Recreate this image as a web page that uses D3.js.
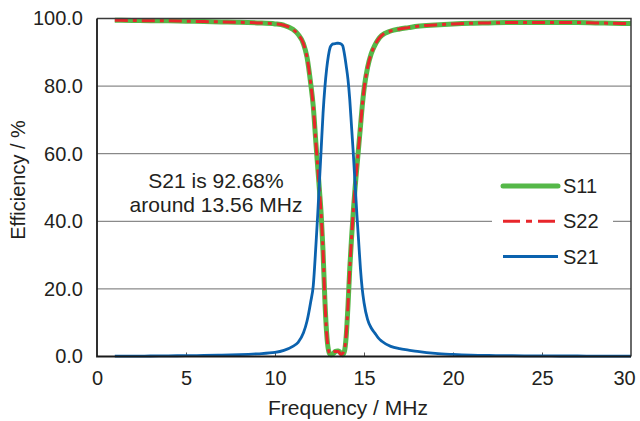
<!DOCTYPE html>
<html>
<head>
<meta charset="utf-8">
<script src="https://cdn.jsdelivr.net/npm/d3@7"></script>
<style>
  html, body { margin: 0; padding: 0; background: #fff; }
  svg { display: block; font-family: "Liberation Sans", Arial, Helvetica, sans-serif; }
</style>
</head>
<body>
<svg id="chart" width="640" height="421"></svg>
<script>
// Frequency sweep, MHz
const freq = [1, 2, 3, 4, 5, 6, 7, 8, 9, 10, 10.5, 11, 11.3, 11.6, 11.8, 12.0, 12.15, 12.3, 12.4, 12.5,
  12.6, 12.7, 12.8, 12.9, 13.0, 13.1, 13.2, 13.3, 13.4, 13.5, 13.56, 13.6, 13.7, 13.8, 13.9, 14.0,
  14.1, 14.2, 14.3, 14.4, 14.5, 14.6, 14.7, 14.8, 14.9, 15.0, 15.2, 15.4, 15.6, 15.8, 16.0, 16.5,
  17, 17.5, 18, 19, 20, 21, 22, 23, 24, 25, 26, 27, 28, 29, 30];

// Efficiency, %
const s11 = [99.5, 99.4, 99.35, 99.3, 99.2, 99.1, 99.0, 98.9, 98.7, 98.4, 98.0, 96.8, 95.3, 92.5, 88.5, 81, 74, 63, 56, 49,
  41.5, 31, 17, 7, 2, 0.6, 0.5, 1.0, 1.5, 1.6, 1.6, 1.5, 1.0, 0.5, 1.5, 6,
  15, 26, 35, 43, 50, 56, 62, 68, 74, 79, 85.5, 89.5, 92, 93.8, 95, 96.3,
  96.9, 97.3, 97.7, 98.1, 98.4, 98.6, 98.7, 98.8, 98.8, 98.8, 98.8, 98.8, 98.7, 98.6, 98.5];

const s22 = [99.5, 99.4, 99.35, 99.3, 99.2, 99.1, 99.0, 98.9, 98.7, 98.4, 98.0, 96.8, 95.3, 92.5, 88.5, 81, 74, 63, 56, 49,
  41.5, 31, 17, 7, 2, 0.8, 1.2, 1.4, 1.5, 1.5, 1.5, 1.3, 0.6, 0.9, 2.0, 6.5,
  15, 26, 35, 43, 50, 56, 62, 68, 74, 79, 85.5, 89.5, 92, 93.8, 95, 96.3,
  96.9, 97.3, 97.7, 98.1, 98.4, 98.6, 98.7, 98.8, 98.8, 98.8, 98.8, 98.8, 98.7, 98.6, 98.5];

const s21 = [0.1, 0.1, 0.15, 0.2, 0.25, 0.3, 0.4, 0.55, 0.8, 1.2, 1.8, 3.0, 4.2, 7, 10.5, 16, 21, 33, 42, 52,
  62, 72, 79.5, 85, 89, 91.5, 92.3, 92.5, 92.6, 92.68, 92.68, 92.65, 92.5, 92, 89.5, 86,
  82, 76, 68, 60, 51, 42, 34, 26, 20, 16, 11, 8.5, 7, 5.5, 4.5, 3,
  2.3, 1.9, 1.5, 0.9, 0.6, 0.4, 0.3, 0.25, 0.2, 0.2, 0.15, 0.15, 0.1, 0.1, 0.1];

const xTicks = [0, 5, 10, 15, 20, 25, 30];
const yTicks = [0, 20, 40, 60, 80, 100];
const seriesNames = ["S11", "S22", "S21"];
const noteLines = ["S21 is 92.68%", "around 13.56 MHz"];

const textColor = "#231f20";
const colors = { S11: "#55b848", S22: "#e8262b", S21: "#0b62ae" };

const svg = d3.select("#chart");
const x = d3.scaleLinear().domain([0, 30]).range([97, 631]);
const y = d3.scaleLinear().domain([0, 100]).range([356.5, 18.5]);

// horizontal grid
svg.append("g")
  .selectAll("line")
  .data(yTicks.filter(v => v > 0 && v < 100))
  .join("line")
  .attr("x1", x(0)).attr("x2", x(30))
  .attr("y1", d => y(d)).attr("y2", d => y(d))
  .attr("stroke", "#6d6d6d").attr("stroke-width", 1);

// x axis tick marks (inward) and labels
const xAxis = d3.axisBottom(x).tickValues(xTicks).tickSizeInner(-4).tickSizeOuter(0)
  .tickPadding(14).tickFormat(d3.format("d"));
const gx = svg.append("g").attr("transform", `translate(0,${y(0)})`).call(xAxis);
gx.select(".domain").remove();
gx.selectAll(".tick line").attr("stroke", "#555").attr("stroke-width", 1)
  .filter(d => d === 0 || d === 30).remove();
gx.selectAll(".tick text").attr("fill", textColor).attr("font-size", 20)
  .attr("font-family", "Liberation Sans, Arial, sans-serif");
// last label sits against the right edge of the canvas
gx.selectAll(".tick text").filter(d => d === 30).attr("x", -7);

// y axis labels
const yAxis = d3.axisLeft(y).tickValues(yTicks).tickSize(0).tickPadding(14)
  .tickFormat(d3.format(".1f"));
const gy = svg.append("g").attr("transform", `translate(${x(0)},0)`).call(yAxis);
gy.select(".domain").remove();
gy.selectAll(".tick text").attr("fill", textColor).attr("font-size", 20)
  .attr("font-family", "Liberation Sans, Arial, sans-serif");

// series lines
const line = vals => d3.line()
  .x((d, i) => x(freq[i]))
  .y(d => y(d))
  .curve(d3.curveMonotoneX)(vals);

svg.append("path").attr("d", line(s11)).attr("fill", "none")
  .attr("stroke", colors.S11).attr("stroke-width", 5).attr("stroke-linejoin", "round");
svg.append("path").attr("d", line(s22)).attr("fill", "none")
  .attr("stroke", colors.S22).attr("stroke-width", 3).attr("stroke-dasharray", "13,5,4,5");
svg.append("path").attr("d", line(s21)).attr("fill", "none")
  .attr("stroke", colors.S21).attr("stroke-width", 2.8).attr("stroke-linejoin", "round");

// plot frame
svg.append("path")
  .attr("d", `M${x(0)},${y(100)}H${x(30)}V${y(0)}`)
  .attr("fill", "none").attr("stroke", "#3a3a3a").attr("stroke-width", 1.5);
svg.append("path")
  .attr("d", `M${x(0)},${y(100)}V${y(0)}H${x(30)}`)
  .attr("fill", "none").attr("stroke", "#1a1a1a").attr("stroke-width", 1.8);

// legend
const legend = svg.append("g");
legend.append("rect").attr("x", 492).attr("y", 170).attr("width", 121).attr("height", 102).attr("fill", "#fff");
const legendY = d3.scalePoint().domain(seriesNames).range([186, 256.5]);
const legendDash = { S11: null, S22: "17,6,6,6", S21: null };
const legendWidth = { S11: 5, S22: 3, S21: 2.8 };
seriesNames.forEach(name => {
  legend.append("line")
    .attr("x1", 503).attr("x2", 558)
    .attr("y1", legendY(name)).attr("y2", legendY(name))
    .attr("stroke", colors[name]).attr("stroke-width", legendWidth[name])
    .attr("stroke-linecap", name === "S11" ? "round" : "butt")
    .attr("stroke-dasharray", legendDash[name]);
  legend.append("text")
    .attr("x", 563).attr("y", legendY(name)).attr("dy", "0.36em")
    .attr("font-size", 20).attr("fill", textColor).text(name);
});

// annotation
svg.append("g").selectAll("text").data(noteLines).join("text")
  .attr("x", 216).attr("y", (d, i) => 188 + i * 24)
  .attr("text-anchor", "middle").attr("font-size", 21).attr("fill", textColor)
  .text(d => d);

// axis titles
svg.append("text").attr("x", 348).attr("y", 415).attr("text-anchor", "middle")
  .attr("font-size", 21).attr("fill", textColor).text("Frequency / MHz");
svg.append("text").attr("transform", "translate(25,180) rotate(-90)").attr("text-anchor", "middle")
  .attr("font-size", 20).attr("fill", textColor).text("Efficiency / %");
</script>
</body>
</html>
